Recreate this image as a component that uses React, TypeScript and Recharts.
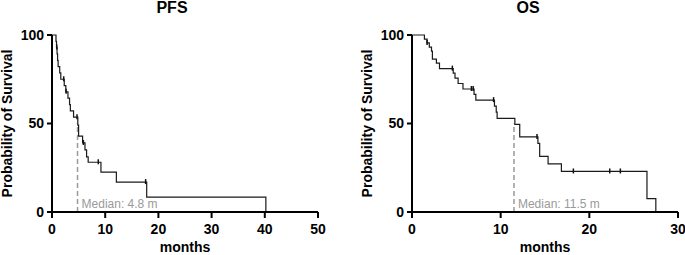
import {
  ComposedChart,
  Line,
  Scatter,
  XAxis,
  YAxis,
  ReferenceLine,
} from 'recharts';

// Kaplan-Meier steps: [months, % surviving]
const pfsSteps = [
  { t: 0, s: 100 },
  { t: 0.75, s: 96.4 },
  { t: 0.85, s: 92.9 },
  { t: 0.95, s: 89.3 },
  { t: 1.05, s: 85.7 },
  { t: 1.15, s: 82.1 },
  { t: 1.45, s: 78.6 },
  { t: 1.65, s: 75.0 },
  { t: 2.3, s: 71.4 },
  { t: 2.6, s: 67.9 },
  { t: 3.0, s: 64.3 },
  { t: 3.3, s: 60.7 },
  { t: 3.45, s: 57.1 },
  { t: 4.05, s: 53.6 },
  { t: 4.85, s: 49.1 },
  { t: 5.0, s: 42.9 },
  { t: 5.75, s: 39.0 },
  { t: 6.2, s: 35.1 },
  { t: 6.5, s: 31.2 },
  { t: 6.8, s: 28.1 },
  { t: 9.2, s: 22.5 },
  { t: 12.1, s: 16.9 },
  { t: 17.8, s: 8.4 },
  { t: 40.2, s: 8.4 },
  { t: 40.2, s: 0 },
];
const pfsCensored = [
  { t: 0.9, s: 92.9 },
  { t: 2.2, s: 75.0 },
  { t: 2.65, s: 67.9 },
  { t: 4.7, s: 53.6 },
  { t: 5.9, s: 39.0 },
  { t: 8.7, s: 28.1 },
  { t: 17.6, s: 16.9 },
];

const osSteps = [
  { t: 0, s: 100 },
  { t: 1.4, s: 97.7 },
  { t: 1.7, s: 95.5 },
  { t: 1.95, s: 93.2 },
  { t: 2.2, s: 90.9 },
  { t: 2.3, s: 86.4 },
  { t: 2.75, s: 84.1 },
  { t: 3.1, s: 81.0 },
  { t: 4.65, s: 78.5 },
  { t: 4.85, s: 75.6 },
  { t: 5.2, s: 72.6 },
  { t: 5.75, s: 69.5 },
  { t: 7.0, s: 66.4 },
  { t: 7.2, s: 63.2 },
  { t: 9.3, s: 59.8 },
  { t: 9.5, s: 56.4 },
  { t: 9.6, s: 52.9 },
  { t: 11.6, s: 49.5 },
  { t: 12.15, s: 42.4 },
  { t: 14.2, s: 38.8 },
  { t: 14.4, s: 31.4 },
  { t: 15.35, s: 27.2 },
  { t: 16.85, s: 22.9 },
  { t: 26.5, s: 7.6 },
  { t: 27.5, s: 7.6 },
  { t: 27.5, s: 0 },
];
const osCensored = [
  { t: 1.7, s: 95.5 },
  { t: 4.55, s: 81.0 },
  { t: 6.7, s: 69.5 },
  { t: 6.9, s: 69.5 },
  { t: 9.2, s: 63.2 },
  { t: 14.1, s: 42.4 },
  { t: 18.2, s: 22.9 },
  { t: 22.3, s: 22.9 },
  { t: 23.5, s: 22.9 },
];

const pfsTicks = [0, 10, 20, 30, 40, 50];
const osTicks = [0, 10, 20, 30];
const yTicks = [0, 50, 100];

const pfsMedian = 4.8;
const osMedian = 11.5;

const FONT = '"Liberation Sans", Arial, Helvetica, sans-serif';
const tickStyle = { fontSize: 14, fontWeight: 700, fill: '#000', fontFamily: FONT };

function CensorMark(props: { cx?: number; cy?: number }) {
  const { cx, cy } = props;
  if (cx == null || cy == null) return null;
  return <line x1={cx} y1={cy - 3} x2={cx} y2={cy + 2} stroke="#111" strokeWidth={1.5} />;
}

interface PanelProps {
  steps: { t: number; s: number }[];
  censored: { t: number; s: number }[];
  ticks: number[];
  median: number;
  width: number;
  marginRight: number;
}

function SurvivalPanel({ steps, censored, ticks, median, width, marginRight }: PanelProps) {
  return (
    <ComposedChart
      width={width}
      height={255}
      margin={{ top: 35, right: marginRight, bottom: 0, left: 0 }}
      style={{ overflow: 'visible' }}
    >
      <XAxis
        type="number"
        dataKey="t"
        domain={[0, ticks[ticks.length - 1]]}
        ticks={ticks}
        interval={0}
        allowDataOverflow
        stroke="#000"
        strokeWidth={2}
        tickSize={6}
        tickMargin={6}
        tick={tickStyle}
        height={43}
        label={{
          value: 'months',
          position: 'insideBottom',
          offset: 3,
          style: { ...tickStyle },
        }}
      />
      <YAxis
        type="number"
        dataKey="s"
        domain={[0, 100]}
        ticks={yTicks}
        interval={0}
        stroke="#000"
        strokeWidth={2}
        tickSize={5}
        tickMargin={3}
        tick={tickStyle}
        width={52}
        label={{
          value: 'Probability of Survival',
          angle: -90,
          position: 'insideLeft',
          offset: 7,
          style: { ...tickStyle, textAnchor: 'middle' },
        }}
      />
      <ReferenceLine
        segment={[
          { x: median, y: 0 },
          { x: median, y: 50 },
        ]}
        stroke="#9a9a9a"
        strokeWidth={1.5}
        strokeDasharray="5 3"
        label={{
          value: `Median: ${median} m`,
          position: 'insideBottomLeft',
          offset: 4,
          style: { fontSize: 12, fill: '#9a9a9a', fontFamily: FONT },
        }}
      />
      <Line
        data={steps}
        dataKey="s"
        type="stepAfter"
        stroke="#1a1a1a"
        strokeWidth={1.2}
        dot={false}
        activeDot={false}
        isAnimationActive={false}
      />
      <Scatter
        data={censored}
        dataKey="s"
        shape={<CensorMark />}
        isAnimationActive={false}
      />
    </ComposedChart>
  );
}

const titleStyle: React.CSSProperties = {
  position: 'absolute',
  top: 0,
  width: 100,
  textAlign: 'center',
  fontFamily: FONT,
  fontWeight: 700,
  fontSize: 16,
  lineHeight: '15px',
  color: '#000',
};

export default function App() {
  return (
    <div style={{ position: 'absolute', left: 0, top: 0, width: 685, height: 255, background: '#fff' }}>
      <div style={{ position: 'absolute', left: 0, top: 0 }}>
        <SurvivalPanel
          steps={pfsSteps}
          censored={pfsCensored}
          ticks={pfsTicks}
          median={pfsMedian}
          width={330}
          marginRight={12}
        />
      </div>
      <div style={{ position: 'absolute', left: 360, top: 0 }}>
        <SurvivalPanel
          steps={osSteps}
          censored={osCensored}
          ticks={osTicks}
          median={osMedian}
          width={325}
          marginRight={7}
        />
      </div>
      <div style={{ ...titleStyle, left: 172 - 50 }}>PFS</div>
      <div style={{ ...titleStyle, left: 528 - 50 }}>OS</div>
    </div>
  );
}
